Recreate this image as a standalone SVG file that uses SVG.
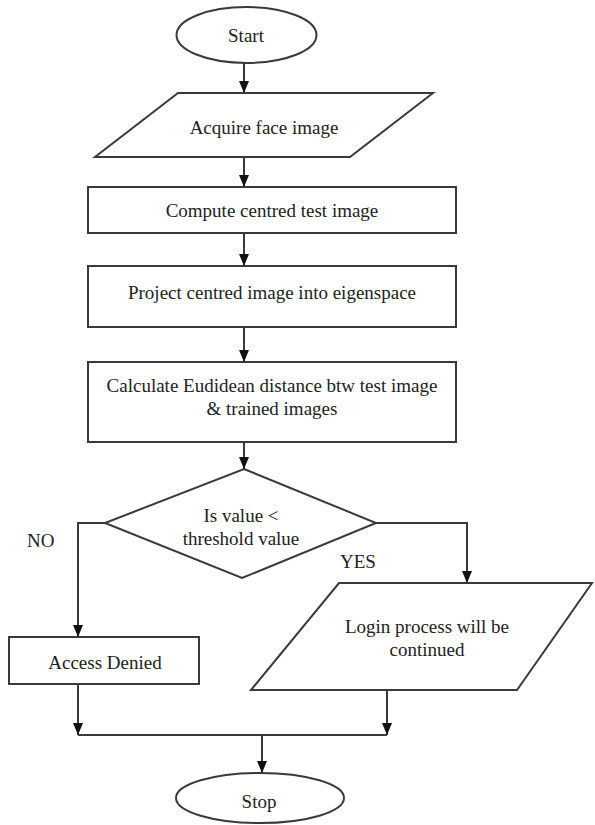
<svg xmlns="http://www.w3.org/2000/svg" width="595" height="825" viewBox="0 0 595 825">
<defs>
<marker id="arr" viewBox="0 0 12 10" refX="12" refY="5" markerWidth="12" markerHeight="10" markerUnits="userSpaceOnUse" orient="auto">
<path d="M0,0 L12,5 L0,10 z" fill="#111"/>
</marker>
<style>
.shape{fill:#fff;stroke:#3a3a3a;stroke-width:2}
.conn{fill:none;stroke:#3a3a3a;stroke-width:2}
.t{font-family:"Liberation Serif","Times New Roman",serif;font-size:19px;fill:#222;text-anchor:middle}
.lbl{font-family:"Liberation Serif","Times New Roman",serif;font-size:19px;fill:#222}
</style>
</defs>
<rect width="595" height="825" fill="#fff"/>
<g id="connectors">
<path class="conn" d="M244,63 V93" marker-end="url(#arr)"/>
<path class="conn" d="M244,157 V187" marker-end="url(#arr)"/>
<path class="conn" d="M244,233 V266" marker-end="url(#arr)"/>
<path class="conn" d="M244,327 V362" marker-end="url(#arr)"/>
<path class="conn" d="M244,442 V469" marker-end="url(#arr)"/>
<path class="conn" d="M105,523 H78 V637" marker-end="url(#arr)"/>
<path class="conn" d="M376,523 H467 V583" marker-end="url(#arr)"/>
<path class="conn" d="M78,684 V735" marker-end="url(#arr)"/>
<path class="conn" d="M387,690 V735" marker-end="url(#arr)"/>
<path class="conn" d="M78,735 H387"/>
<path class="conn" d="M262,735 V773" marker-end="url(#arr)"/>
</g>
<g id="start">
<ellipse class="shape" cx="246.5" cy="35" rx="70" ry="28"/>
<text class="t" x="246" y="42">Start</text>
</g>
<g id="acquire">
<polygon class="shape" points="178,93 433,93 350,157 95,157"/>
<text class="t" x="264" y="134">Acquire face image</text>
</g>
<g id="compute">
<rect class="shape" x="88" y="187" width="368" height="46"/>
<text class="t" x="272" y="217">Compute centred test image</text>
</g>
<g id="project">
<rect class="shape" x="88" y="266" width="368" height="61"/>
<text class="t" x="272" y="299">Project centred image into eigenspace</text>
</g>
<g id="calculate">
<rect class="shape" x="88" y="362" width="368" height="80"/>
<text class="t" x="272" y="392">Calculate Eudidean distance btw test image</text>
<text class="t" x="272" y="415">&amp; trained images</text>
</g>
<g id="decision">
<polygon class="shape" points="244,469 376,523 242,578 105,523"/>
<text class="t" x="241" y="522">Is value &lt;</text>
<text class="t" x="241" y="545">threshold value</text>
</g>
<g id="labels">
<text class="lbl" x="27" y="547">NO</text>
<text class="lbl" x="340" y="568">YES</text>
</g>
<g id="denied">
<rect class="shape" x="9" y="637" width="190" height="47"/>
<text class="t" x="105" y="669">Access Denied</text>
</g>
<g id="login">
<polygon class="shape" points="339,583 592,583 517,690 251,690"/>
<text class="t" x="427" y="633">Login process will be</text>
<text class="t" x="427" y="656">continued</text>
</g>
<g id="stop">
<ellipse class="shape" cx="260" cy="798" rx="84" ry="25"/>
<text class="t" x="259" y="808">Stop</text>
</g>
</svg>
